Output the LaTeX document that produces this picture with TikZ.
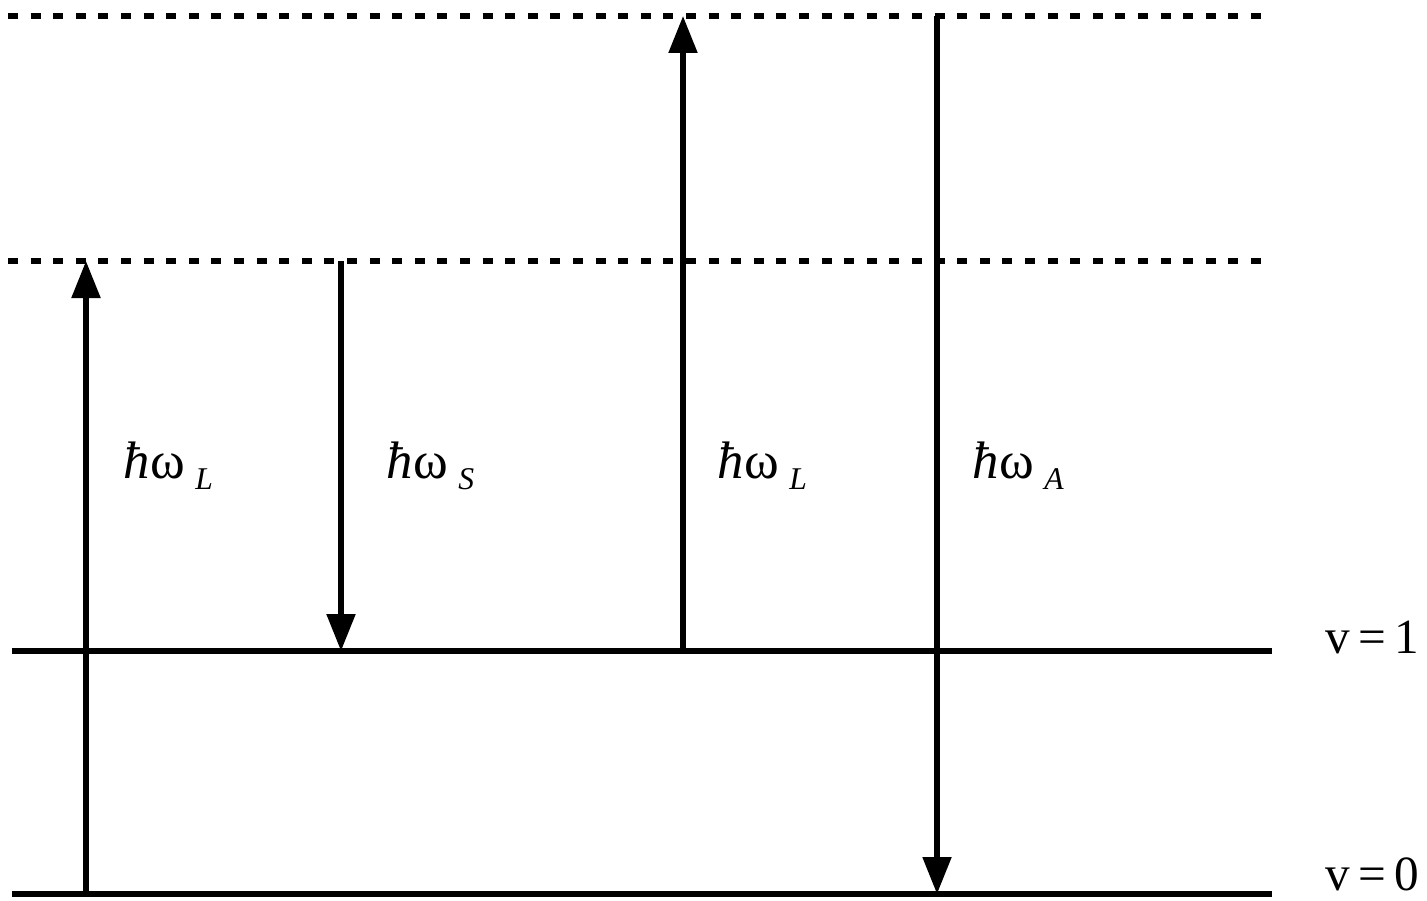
\documentclass[tikz,border=0pt]{standalone}
\usepackage{fontspec}
\setmainfont{Liberation Serif}
\usepackage{tikz}
\usetikzlibrary{positioning,arrows.meta}

% photon energy label: hbar omega with a small lowered subscript
\newcommand{\phot}[1]{\textit{ħ}ω\hspace{0.2em}\raisebox{-3.2pt}{\fontsize{9}{9}\selectfont\textit{#1}}}

\begin{document}
\begin{tikzpicture}[
  level/.style={line width=1.5pt},
  virt/.style={line width=1.6pt, dash pattern=on 0.1cm off 0.126cm},
  trans/.style={line width=1.5pt, -{Triangle[length=0.37cm,width=0.28cm]}},
  elbl/.style={anchor=base west, inner sep=0pt, font=\fontsize{15}{17}\selectfont},
  vlbl/.style={anchor=base west, inner sep=0pt, font=\fontsize{14}{16}\selectfont}
]
  \useasboundingbox (0,0) rectangle (14.27,9);
  % level heights
  \def\yzero{0.06}
  \def\yone{2.49}
  \def\yvlo{6.39}
  \def\yvhi{8.84}
  % real levels v=0 and v=1
  \coordinate (v0l) at (0.12,\yzero); \coordinate (v0r) at (12.72,\yzero);
  \coordinate (v1l) at (0.12,\yone);  \coordinate (v1r) at (12.72,\yone);
  \draw[level] (v0l) -- (v0r);
  \draw[level] (v1l) -- (v1r);
  \node[vlbl] (v0) at (13.25,0.10) {v\,=\,0};
  \node[vlbl] (v1) at (13.25,2.47) {v\,=\,1};
  % virtual levels (dashed)
  \coordinate (vlol) at (0.08,\yvlo); \coordinate (vlor) at (12.70,\yvlo);
  \coordinate (vhil) at (0.08,\yvhi); \coordinate (vhir) at (12.70,\yvhi);
  \draw[virt] (vlol) -- (vlor);
  \draw[virt] (vhil) -- (vhir);
  % Stokes: pump up from v=0, scatter down to v=1
  \coordinate (s1a) at (0.86,\yzero); \coordinate (s1b) at (0.86,\yvlo);
  \coordinate (s2a) at (3.41,\yvlo);  \coordinate (s2b) at (3.41,\yone);
  \draw[trans] (s1a) -- (s1b);
  \draw[trans] (s2a) -- (s2b);
  % anti-Stokes: pump up from v=1, scatter down to v=0
  \coordinate (a1a) at (6.83,\yone);  \coordinate (a1b) at (6.83,\yvhi);
  \coordinate (a2a) at (9.37,\yvhi);  \coordinate (a2b) at (9.37,\yzero);
  \draw[trans] (a1a) -- (a1b);
  \draw[trans] (a2a) -- (a2b);
  % photon labels
  \node[elbl] (lL1) at (1.23,4.22) {\phot{L}};
  \node[elbl] (lS)  at (3.86,4.22) {\phot{S}};
  \node[elbl] (lL2) at (7.17,4.22) {\phot{L}};
  \node[elbl] (lA)  at (9.72,4.22) {\phot{A}};
\end{tikzpicture}
\end{document}
